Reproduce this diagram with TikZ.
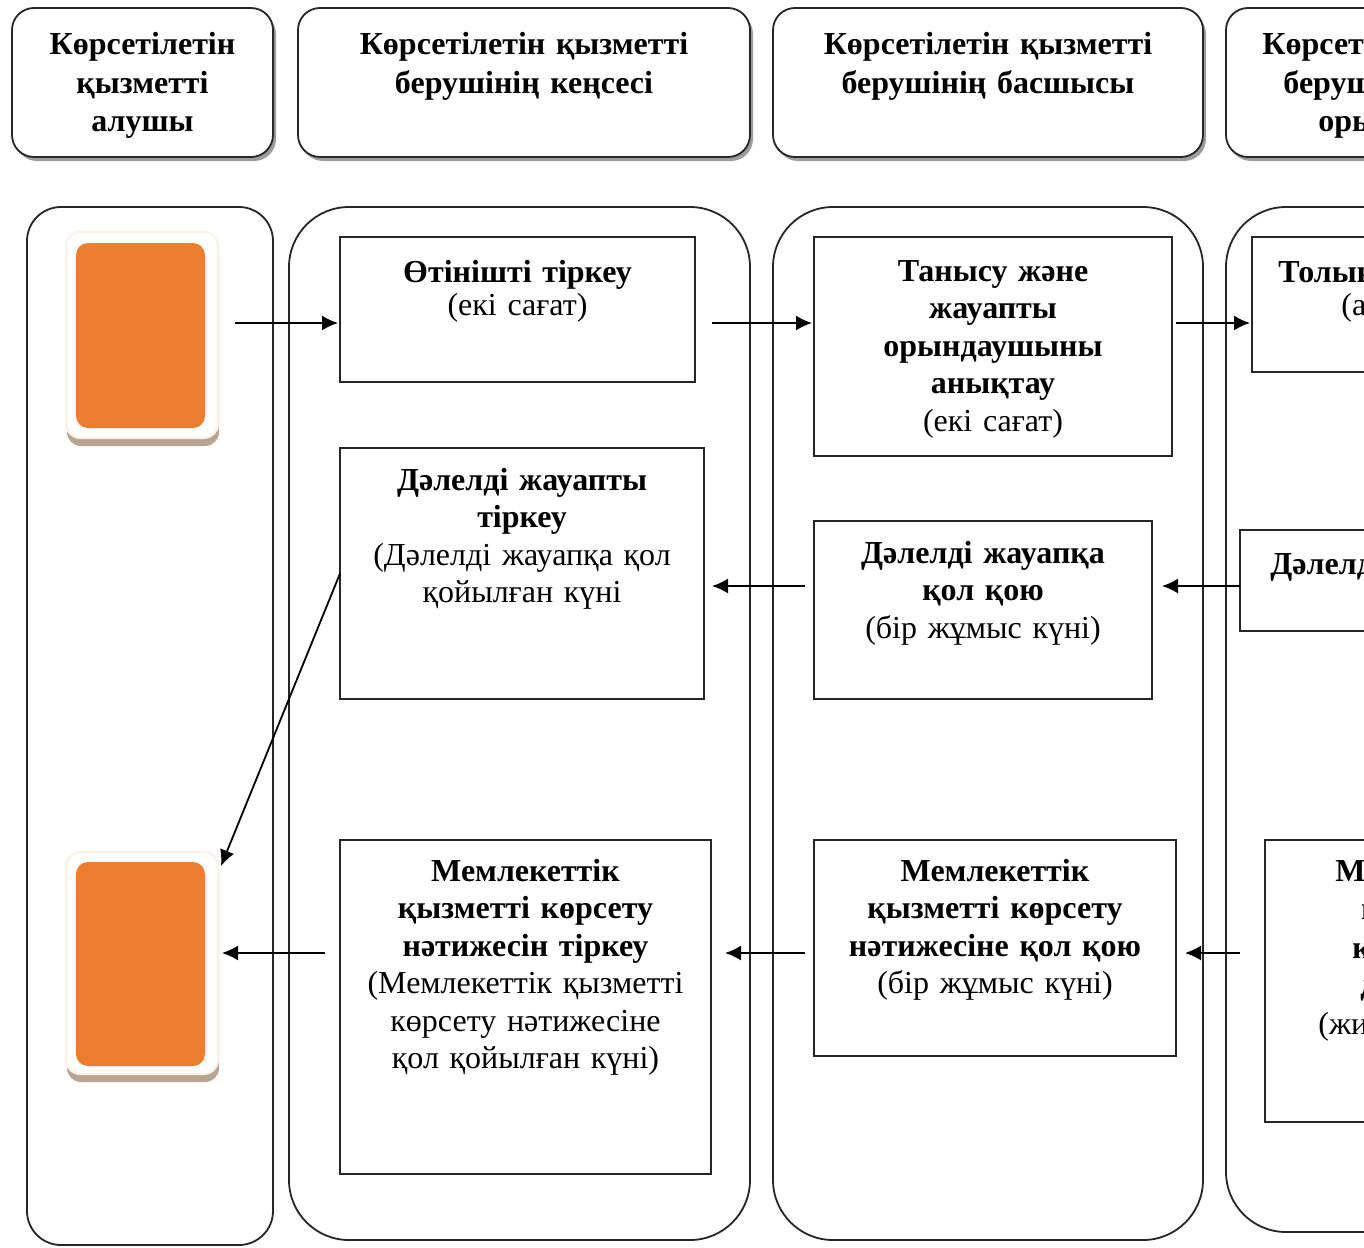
\documentclass[tikz,border=0pt]{standalone}
\usepackage{fontspec}
\setmainfont{Liberation Serif}
\usetikzlibrary{arrows.meta,calc,fit,shadows}
\definecolor{orangeC}{HTML}{ED7D31}
\definecolor{shadowO}{HTML}{B8A493}
\definecolor{glowO}{HTML}{FDF0E4}
\begin{document}
\begin{tikzpicture}[x=0.5pt,y=-0.5pt,
  hdr/.style={draw=black!85, line width=0.9pt, rounded corners=11pt, fill=white, inner sep=0pt, outer sep=0pt,
    drop shadow={shadow xshift=1.5pt, shadow yshift=-2pt, fill=black!55, opacity=0.7}},
  lane/.style={draw=black!85, line width=0.9pt, inner sep=0pt, outer sep=0pt},
  proc/.style={draw=black!85, line width=0.9pt, inner sep=0pt, outer sep=0pt},
  txt/.style={anchor=base, align=center, inner sep=0pt, font=\fontsize{16}{18.75}\selectfont},
  htxt/.style={anchor=base, align=center, inner sep=0pt, font=\fontsize{16}{19.25}\selectfont\bfseries},
  ctxt/.style={anchor=base west, inner sep=0pt, font=\fontsize{16}{18.75}\selectfont},
  frame/.style={inner sep=0pt, outer sep=0pt, rounded corners=7pt, fill=white, draw=glowO, line width=1pt,
    drop shadow={shadow xshift=0.5pt, shadow yshift=-4pt, fill=shadowO, opacity=1}},
  orng/.style={inner sep=0pt, outer sep=0pt, rounded corners=6pt, fill=orangeC},
  arr/.style={line width=0.9pt, -{Latex[length=8pt,width=7.5pt]}},
  ]
\useasboundingbox (0,0) rectangle (1364,1247);
\clip (0,0) rectangle (1364,1247);
\fill[white] (0,0) rectangle (1364,1247);

% row coordinates
\coordinate (rA) at (0,323);
\coordinate (rB) at (0,586);
\coordinate (rC) at (0,953);

% headers
\node[hdr, fit={(12,8)(273,157)}] (h1) {};
\node[hdr, fit={(298,8)(750,157)}] (h2) {};
\node[hdr, fit={(773,8)(1203,157)}] (h3) {};
\node[hdr, fit={(1226,8)(1700,157)}] (h4) {};
\node[htxt, text width=125pt] (h1t) at (h1.north |- 0,55) {Көрсетілетін\\қызметті\\алушы};
\node[htxt, text width=220pt] (h2t) at (h2.north |- 0,55) {Көрсетілетін қызметті\\берушінің кеңсесі};
\node[htxt, text width=210pt] (h3t) at (h3.north |- 0,55) {Көрсетілетін қызметті\\берушінің басшысы};
\node[ctxt, font=\fontsize{16}{18.75}\selectfont\bfseries] (h4a) at (1262,55) {Көрсетілетін қызметті};
\node[ctxt, font=\fontsize{16}{18.75}\selectfont\bfseries] (h4b) at (1283,94) {берушінің жауапты};
\node[ctxt, font=\fontsize{16}{18.75}\selectfont\bfseries] (h4c) at (1318,132) {орындаушысы};

% lanes
\node[lane, rounded corners=17pt, fit={(27,207)(273,1245)}] (l1) {};
\node[lane, rounded corners=30pt, fit={(289,207)(750,1240)}] (l2) {};
\node[lane, rounded corners=30pt, fit={(773,207)(1203,1240)}] (l3) {};
\node[lane, rounded corners=30pt, fit={(1226,207)(1700,1232)}] (l4) {};

% orange terminals
\node[frame, fit={(66,232)(218,438)}] (o1) {};
\node[orng, fit={(76,243)(205,428)}] (o1in) {};
\node[frame, fit={(66,852)(218,1074)}] (o2) {};
\node[orng, fit={(76,862)(205,1066)}] (o2in) {};

% process boxes
\node[proc, fit={(340,237)(695,382)}] (b1) {};
\node[proc, fit={(814,237)(1172,456)}] (b2) {};
\node[proc, fit={(1252,237)(1700,372)}] (b3) {};
\node[proc, fit={(340,448)(704,699)}] (b4) {};
\node[proc, fit={(814,521)(1152,699)}] (b5) {};
\node[proc, fit={(1240,530)(1700,631)}] (b6) {};
\node[proc, fit={(340,840)(711,1174)}] (b7) {};
\node[proc, fit={(814,840)(1176,1056)}] (b8) {};
\node[proc, fit={(1265,840)(1700,1122)}] (b9) {};

% texts
\node[txt, text width=170pt, font=\fontsize{16}{16.5}\selectfont] (t1) at (b1.north |- 0,282) {\textbf{Өтінішті тіркеу}\\(екі сағат)};
\node[txt, text width=170pt] (t2) at (b2.north |- 0,281) {\textbf{Танысу және\\жауапты\\орындаушыны\\анықтау}\\(екі сағат)};
\node[ctxt, font=\fontsize{16}{18.75}\selectfont\bfseries] (t3a) at (1278,282) {Толық қарау};
\node[ctxt] (t3b) at (1341,315) {(алты сағат)};
\node[txt, text width=175pt] (t4) at (b4.north |- 0,490) {\textbf{Дәлелді жауапты\\тіркеу}\\(Дәлелді жауапқа қол\\қойылған күні};
\node[txt, text width=165pt] (t5) at (b5.north |- 0,563) {\textbf{Дәлелді жауапқа\\қол қою}\\(бір жұмыс күні)};
\node[ctxt, font=\fontsize{16}{18.75}\selectfont\bfseries] (t6) at (1270,574) {Дәлелді жауапты дайындау};
\node[txt, text width=180pt] (t7) at (b7.north |- 0,881) {\textbf{Мемлекеттік\\қызметті көрсету\\нәтижесін тіркеу}\\(Мемлекеттік қызметті\\көрсету нәтижесіне\\қол қойылған күні)};
\node[txt, text width=178pt] (t8) at (b8.north |- 0,881) {\textbf{Мемлекеттік\\қызметті көрсету\\нәтижесіне қол қою}\\(бір жұмыс күні)};
\node[ctxt, font=\fontsize{16}{18.75}\selectfont\bfseries] (t9a) at (1335,881) {Мемлекеттік};
\node[ctxt, font=\fontsize{16}{18.75}\selectfont\bfseries] (t9b) at (1361,919) {қызметті};
\node[ctxt, font=\fontsize{16}{18.75}\selectfont\bfseries] (t9c) at (1352,958) {көрсету нәтижесін};
\node[ctxt, font=\fontsize{16}{18.75}\selectfont\bfseries] (t9d) at (1360,995) {дайындау};
\node[ctxt] (t9e) at (1318,1034) {(жиырма жұмыс күні)};

% connectors
\draw[arr, shorten <=8.5pt, shorten >=1pt] (o1.east |- rA) -- (b1.west |- rA);
\draw[arr, shorten <=8.5pt, shorten >=1pt] (b1.east |- rA) -- (b2.west |- rA);
\draw[arr, shorten <=2pt, shorten >=1pt] (b2.east |- rA) -- (b3.west |- rA);
\draw[arr, shorten >=5pt] (b6.west |- rB) -- (b5.east |- rB);
\draw[arr, shorten <=4.5pt, shorten >=4pt] (b5.west |- rB) -- (b4.east |- rB);
\draw[arr] (b4.west) -- ([xshift=1.5pt,yshift=-7pt]o2.north east);
\draw[arr, shorten <=12.5pt, shorten >=4.5pt] (b9.west |- rC) -- (b8.east |- rC);
\draw[arr, shorten <=4.5pt, shorten >=7pt] (b8.west |- rC) -- (b7.east |- rC);
\draw[arr, shorten <=7.5pt, shorten >=2pt] (b7.west |- rC) -- (o2.east |- rC);
\end{tikzpicture}
\end{document}
